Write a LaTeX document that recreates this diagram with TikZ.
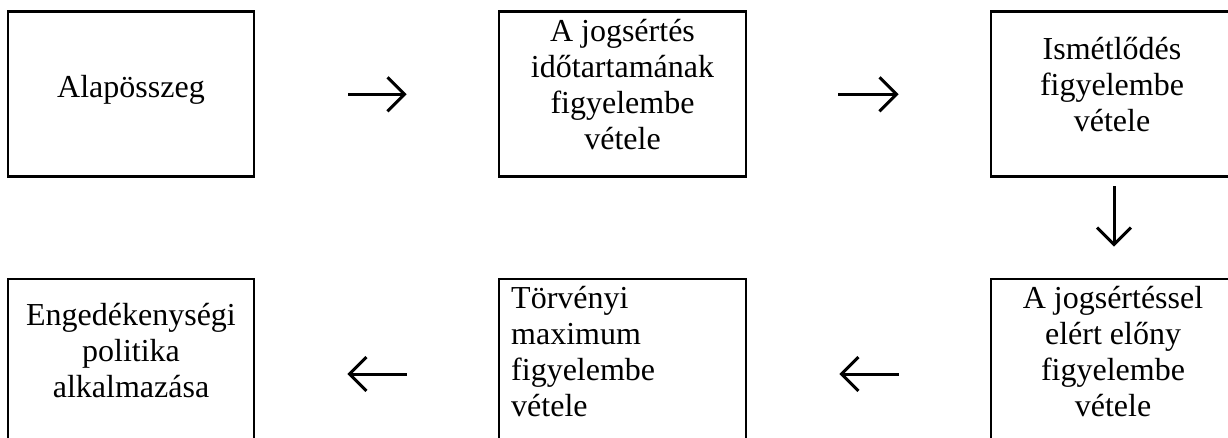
\documentclass[tikz,border=0pt]{standalone}
\usepackage{fontspec}
\setmainfont{Liberation Serif}
\usetikzlibrary{arrows.meta}
\begin{document}
\begin{tikzpicture}[x=1pt,y=-1pt,
  box/.style={draw=black,line width=2.7pt,rectangle,inner sep=0pt},
  topbox/.style={box,minimum height=165pt},
  botbox/.style={box,minimum height=190pt},
  txt/.style={inner sep=0pt,font=\fontsize{32}{36}\selectfont},
  flow/.style={line width=3pt,-{Straight Barb[length=17pt,width=34pt,line width=3pt]}}]
\useasboundingbox (0,0) rectangle (1228,437);
\clip (0,0) rectangle (1228,437);
% top row
\node[topbox,minimum width=246pt] (b1) at (131,94.3) {};
\node[topbox,minimum width=247pt] (b2) at (622.5,94.3) {};
\node[topbox,minimum width=246pt] (b3) at (1114,94.3) {};
% bottom row
\node[botbox,minimum width=246pt] (b4) at (131,374) {};
\node[botbox,minimum width=247pt] (b5) at (622.5,374) {};
\node[botbox,minimum width=246pt] (b6) at (1114,374) {};
% texts
\node[txt] (t1) at (131,89.5) {Alapösszeg};
\node[txt,align=center] (t2) at (622.5,85) {A jogsértés\\időtartamának\\figyelembe\\vétele};
\node[txt,align=center] (t3) at (1112,85) {Ismétlődés\\figyelembe\\vétele};
\node[txt,align=center] (t4) at (131,350.5) {Engedékenységi\\politika\\alkalmazása};
\node[txt,align=left,anchor=west] (t5) at (511,351.5) {Törvényi\\maximum\\figyelembe\\vétele};
\node[txt,align=center] (t6) at (1113,351.5) {A jogsértéssel\\elért előny\\figyelembe\\vétele};
% connectors
\draw[flow,shorten <=93pt,shorten >=91pt] (b1.east) -- (b2.west);
\draw[flow,shorten <=91pt,shorten >=91pt] (b2.east) -- (b3.west);
\draw[flow,shorten <=8pt,shorten >=31pt] (b3.south) -- (b3.south |- b6.north);
\draw[flow,shorten <=91pt,shorten >=92pt] (b6.west |- b5.east) -- (b5.east);
\draw[flow,shorten <=91pt,shorten >=92pt] (b5.west) -- (b4.east);
\end{tikzpicture}
\end{document}
